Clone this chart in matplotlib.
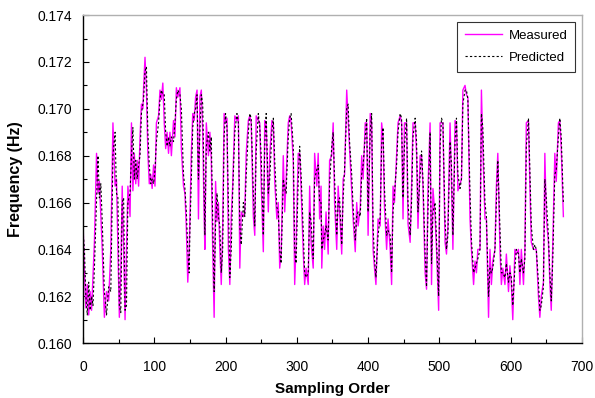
import matplotlib
matplotlib.use('Agg')
import matplotlib.pyplot as plt
from matplotlib.ticker import MultipleLocator, FormatStrFormatter

plt.rcParams['font.family'] = ['Liberation Sans', 'DejaVu Sans']

# sampling positions
sample = [
    0, 2, 4, 6, 8, 10, 12, 14, 16, 19, 21, 23, 25, 27, 30, 33, 36, 39, 42, 45,
    47, 49, 51, 53, 55, 57, 59, 61, 63, 66, 68, 70, 72, 74, 76, 78, 80, 82, 84, 85,
    87, 89, 91, 93, 95, 97, 99, 101, 103, 106, 108, 110, 112, 114, 116, 118, 120, 122, 124, 127,
    129, 131, 133, 136, 138, 141, 143, 145, 147, 149, 150, 152, 154, 156, 158, 160, 162, 164, 166, 168,
    170, 171, 173, 176, 178, 180, 182, 184, 186, 188, 190, 192, 194, 196, 198, 200, 202, 204, 206, 208,
    210, 213, 216, 218, 220, 222, 225, 227, 229, 232, 234, 236, 239, 241, 243, 246, 248, 250, 253, 255,
    257, 260, 262, 265, 267, 269, 272, 274, 276, 278, 281, 283, 285, 288, 290, 292, 295, 297, 299, 302,
    304, 306, 309, 311, 313, 316, 318, 320, 323, 325, 328, 330, 332, 334, 335, 337, 339, 341, 344, 346,
    349, 351, 353, 356, 358, 360, 363, 365, 367, 370, 372, 374, 377, 379, 382, 384, 386, 389, 391, 393,
    396, 398, 400, 403, 405, 407, 409, 411, 414, 417, 419, 421, 423, 426, 428, 431, 433, 435, 437, 440,
    442, 445, 447, 449, 451, 454, 456, 459, 461, 463, 466, 468, 470, 473, 475, 477, 480, 482, 484, 487,
    489, 491, 494, 496, 499, 501, 503, 505, 508, 510, 512, 515, 517, 519, 522, 524, 526, 529, 531, 533,
    536, 538, 540, 543, 545, 548, 550, 552, 554, 557, 559, 561, 564, 566, 569, 571, 573, 575, 578, 580,
    582, 585, 587, 589, 592, 594, 597, 599, 601, 603, 606, 608, 611, 613, 615, 618, 620, 622, 625, 627,
    629, 632, 634, 636, 639, 641, 643, 646, 648, 650, 653, 655, 657, 659, 662, 664, 667, 669, 671, 674,
]

measured = [
    0.1652, 0.1630, 0.1615, 0.1625, 0.1612, 0.1622, 0.1614, 0.1628, 0.1643, 0.1681,
    0.1664, 0.1669, 0.1655, 0.1640, 0.1611, 0.1622, 0.1618, 0.1640, 0.1694, 0.1667,
    0.1670, 0.1640, 0.1611, 0.1630, 0.1667, 0.1640, 0.1610, 0.1640, 0.1667, 0.1654,
    0.1694, 0.1665, 0.1681, 0.1668, 0.1678, 0.1667, 0.1688, 0.1702, 0.1700, 0.1709,
    0.1722, 0.1708, 0.1681, 0.1668, 0.1672, 0.1666, 0.1676, 0.1667, 0.1694, 0.1697,
    0.1708, 0.1704, 0.1711, 0.1694, 0.1683, 0.1690, 0.1681, 0.1690, 0.1680, 0.1695,
    0.1688, 0.1709, 0.1705, 0.1709, 0.1683, 0.1667, 0.1664, 0.1649, 0.1626, 0.1640,
    0.1654, 0.1681, 0.1698, 0.1695, 0.1705, 0.1708, 0.1653, 0.1705, 0.1708, 0.1690,
    0.1653, 0.1640, 0.1694, 0.1680, 0.1690, 0.1678, 0.1640, 0.1611, 0.1669, 0.1652,
    0.1660, 0.1640, 0.1625, 0.1650, 0.1698, 0.1694, 0.1696, 0.1640, 0.1625, 0.1654,
    0.1667, 0.1697, 0.1695, 0.1697, 0.1632, 0.1656, 0.1654, 0.1656, 0.1681, 0.1695,
    0.1697, 0.1694, 0.1654, 0.1646, 0.1697, 0.1695, 0.1694, 0.1669, 0.1639, 0.1695,
    0.1694, 0.1656, 0.1680, 0.1695, 0.1694, 0.1669, 0.1653, 0.1660, 0.1632, 0.1638,
    0.1680, 0.1656, 0.1670, 0.1694, 0.1697, 0.1694, 0.1678, 0.1625, 0.1643, 0.1681,
    0.1681, 0.1666, 0.1639, 0.1625, 0.1632, 0.1625, 0.1667, 0.1643, 0.1632, 0.1681,
    0.1667, 0.1681, 0.1653, 0.1667, 0.1632, 0.1650, 0.1640, 0.1656, 0.1638, 0.1678,
    0.1680, 0.1694, 0.1660, 0.1640, 0.1667, 0.1656, 0.1638, 0.1670, 0.1672, 0.1708,
    0.1695, 0.1683, 0.1665, 0.1653, 0.1639, 0.1660, 0.1650, 0.1658, 0.1680, 0.1670,
    0.1694, 0.1694, 0.1646, 0.1698, 0.1694, 0.1640, 0.1632, 0.1625, 0.1653, 0.1650,
    0.1694, 0.1688, 0.1658, 0.1640, 0.1653, 0.1640, 0.1625, 0.1667, 0.1660, 0.1681,
    0.1694, 0.1697, 0.1694, 0.1653, 0.1694, 0.1694, 0.1651, 0.1643, 0.1667, 0.1694,
    0.1694, 0.1681, 0.1649, 0.1680, 0.1680, 0.1667, 0.1630, 0.1623, 0.1666, 0.1694,
    0.1625, 0.1666, 0.1654, 0.1640, 0.1614, 0.1694, 0.1694, 0.1694, 0.1643, 0.1638,
    0.1650, 0.1694, 0.1669, 0.1640, 0.1695, 0.1694, 0.1665, 0.1668, 0.1670, 0.1708,
    0.1710, 0.1706, 0.1705, 0.1653, 0.1640, 0.1625, 0.1635, 0.1630, 0.1640, 0.1640,
    0.1708, 0.1683, 0.1653, 0.1653, 0.1611, 0.1640, 0.1625, 0.1635, 0.1640, 0.1667,
    0.1681, 0.1640, 0.1625, 0.1632, 0.1625, 0.1638, 0.1622, 0.1633, 0.1625, 0.1610,
    0.1640, 0.1638, 0.1640, 0.1625, 0.1640, 0.1625, 0.1640, 0.1694, 0.1695, 0.1667,
    0.1643, 0.1640, 0.1640, 0.1640, 0.1620, 0.1611, 0.1620, 0.1626, 0.1681, 0.1654,
    0.1643, 0.1626, 0.1614, 0.1640, 0.1681, 0.1669, 0.1694, 0.1695, 0.1683, 0.1654,
]

predicted = [
    0.1648, 0.1640, 0.1620, 0.1612, 0.1626, 0.1614, 0.1620, 0.1616, 0.1632, 0.1660,
    0.1680, 0.1662, 0.1668, 0.1652, 0.1622, 0.1612, 0.1624, 0.1622, 0.1680, 0.1690,
    0.1664, 0.1662, 0.1616, 0.1613, 0.1660, 0.1662, 0.1614, 0.1616, 0.1660, 0.1664,
    0.1680, 0.1692, 0.1670, 0.1678, 0.1670, 0.1676, 0.1680, 0.1698, 0.1702, 0.1704,
    0.1716, 0.1718, 0.1690, 0.1676, 0.1668, 0.1670, 0.1668, 0.1674, 0.1686, 0.1694,
    0.1704, 0.1708, 0.1706, 0.1706, 0.1690, 0.1684, 0.1688, 0.1684, 0.1688, 0.1686,
    0.1694, 0.1704, 0.1708, 0.1706, 0.1700, 0.1672, 0.1666, 0.1656, 0.1640, 0.1630,
    0.1648, 0.1670, 0.1692, 0.1698, 0.1700, 0.1706, 0.1670, 0.1690, 0.1706, 0.1702,
    0.1664, 0.1646, 0.1684, 0.1690, 0.1682, 0.1688, 0.1652, 0.1622, 0.1650, 0.1664,
    0.1654, 0.1650, 0.1630, 0.1640, 0.1688, 0.1698, 0.1692, 0.1660, 0.1628, 0.1640,
    0.1664, 0.1690, 0.1698, 0.1694, 0.1650, 0.1642, 0.1660, 0.1654, 0.1672, 0.1690,
    0.1698, 0.1696, 0.1664, 0.1650, 0.1682, 0.1698, 0.1692, 0.1680, 0.1646, 0.1684,
    0.1698, 0.1664, 0.1670, 0.1690, 0.1696, 0.1678, 0.1658, 0.1656, 0.1640, 0.1634,
    0.1670, 0.1666, 0.1664, 0.1688, 0.1696, 0.1698, 0.1684, 0.1640, 0.1634, 0.1670,
    0.1684, 0.1672, 0.1648, 0.1630, 0.1628, 0.1630, 0.1656, 0.1652, 0.1636, 0.1670,
    0.1674, 0.1676, 0.1660, 0.1660, 0.1640, 0.1644, 0.1646, 0.1650, 0.1644, 0.1668,
    0.1684, 0.1690, 0.1670, 0.1646, 0.1660, 0.1662, 0.1642, 0.1662, 0.1674, 0.1700,
    0.1702, 0.1686, 0.1672, 0.1658, 0.1644, 0.1654, 0.1656, 0.1654, 0.1672, 0.1676,
    0.1688, 0.1696, 0.1656, 0.1690, 0.1698, 0.1650, 0.1636, 0.1628, 0.1646, 0.1654,
    0.1684, 0.1692, 0.1666, 0.1646, 0.1648, 0.1646, 0.1630, 0.1656, 0.1664, 0.1676,
    0.1690, 0.1698, 0.1696, 0.1662, 0.1684, 0.1696, 0.1660, 0.1646, 0.1660, 0.1688,
    0.1696, 0.1686, 0.1656, 0.1672, 0.1682, 0.1670, 0.1638, 0.1624, 0.1656, 0.1690,
    0.1634, 0.1656, 0.1660, 0.1644, 0.1620, 0.1684, 0.1696, 0.1694, 0.1652, 0.1640,
    0.1646, 0.1686, 0.1676, 0.1646, 0.1686, 0.1696, 0.1672, 0.1666, 0.1670, 0.1702,
    0.1708, 0.1708, 0.1704, 0.1664, 0.1644, 0.1630, 0.1632, 0.1634, 0.1636, 0.1640,
    0.1698, 0.1692, 0.1660, 0.1654, 0.1620, 0.1632, 0.1630, 0.1632, 0.1640, 0.1660,
    0.1678, 0.1650, 0.1630, 0.1630, 0.1628, 0.1634, 0.1626, 0.1630, 0.1628, 0.1616,
    0.1632, 0.1640, 0.1638, 0.1630, 0.1636, 0.1630, 0.1636, 0.1684, 0.1696, 0.1674,
    0.1650, 0.1640, 0.1642, 0.1640, 0.1626, 0.1614, 0.1616, 0.1624, 0.1670, 0.1662,
    0.1646, 0.1630, 0.1618, 0.1634, 0.1672, 0.1674, 0.1688, 0.1696, 0.1688, 0.1660,
]

fig = plt.figure(figsize=(5.95, 3.98), dpi=100)
ax = fig.add_axes([0.1395, 0.138, 0.8385, 0.824])

ax.plot(sample, measured, color='#ff00ff', lw=1.0, label='Measured')
ax.plot(sample, predicted, color='black', lw=0.8, ls=(0, (2, 2)), label='Predicted')

ax.set_xlim(0, 700)
ax.set_ylim(0.160, 0.174)
ax.xaxis.set_major_locator(MultipleLocator(100))
ax.xaxis.set_minor_locator(MultipleLocator(50))
ax.yaxis.set_major_locator(MultipleLocator(0.002))
ax.yaxis.set_minor_locator(MultipleLocator(0.001))
ax.yaxis.set_major_formatter(FormatStrFormatter('%.3f'))

ax.tick_params(which='both', direction='in', top=False, right=False, labelsize=10, width=0.8)
ax.tick_params(which='major', length=4)
ax.tick_params(which='minor', length=3)
ax.tick_params(axis='x', pad=12)
ax.tick_params(axis='y', pad=8)

for s in ['left', 'bottom']:
    ax.spines[s].set_color('black')
    ax.spines[s].set_linewidth(1.0)
for s in ['top', 'right']:
    ax.spines[s].set_color('#b0b0b0')
    ax.spines[s].set_linewidth(1.0)

ax.set_xlabel('Sampling Order', fontsize=11, fontweight='bold', labelpad=6)
ax.set_ylabel('Frequency (Hz)', fontsize=11.5, fontweight='bold', labelpad=10)

leg = ax.legend(loc='upper right', fontsize=9.5, frameon=True, fancybox=False,
                edgecolor='black', handlelength=2.8, borderaxespad=0.5,
                labelspacing=0.75, borderpad=0.6, handletextpad=0.5)
leg.get_frame().set_linewidth(0.8)

fig.savefig('out.png', dpi=100)
